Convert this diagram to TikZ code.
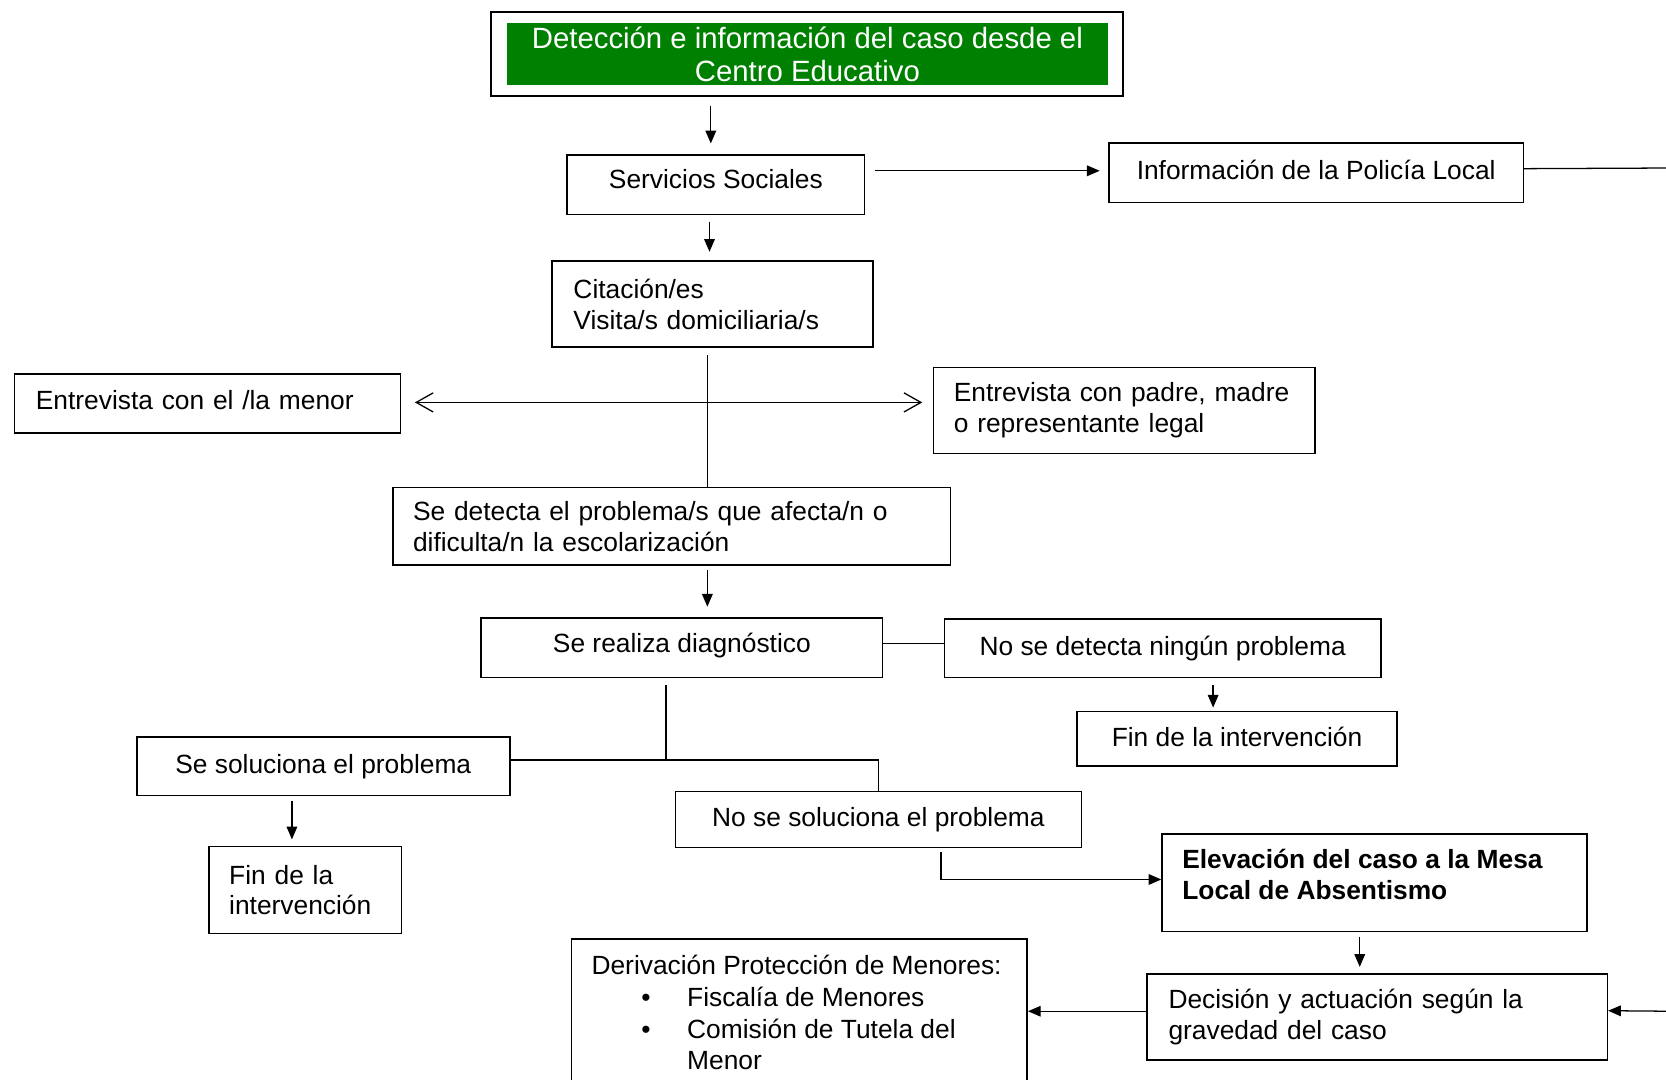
\documentclass[tikz,border=0pt]{standalone}
\usepackage{fontspec}
\setmainfont{Liberation Sans}
\usetikzlibrary{arrows.meta}
\definecolor{dgreen}{RGB}{0,128,0}
\begin{document}
\begin{tikzpicture}[x=0.5pt,y=-0.5pt,
  font=\fontsize{12.4}{14.5}\selectfont,
  box/.style={draw, line width=0.75pt, anchor=north west, inner ysep=0pt},
  cbox/.style={box, align=center, inner xsep=0pt},
  lbox/.style={box, align=left},
  arr/.style={line width=0.6pt, -{Triangle[length=6pt,width=5pt]}},
  ln/.style={line width=0.6pt},
  dbl/.style={line width=0.6pt, {Straight Barb[length=8pt,width=9pt]}-{Straight Barb[length=8pt,width=9pt]}}]
\useasboundingbox (0,0) rectangle (1568,1016);

% nodes
\node[box, line width=1pt, minimum width=297.5pt, minimum height=39.5pt] (top) at (461,10) {};
\node[anchor=north west, fill=dgreen, text=white, minimum width=282.5pt, minimum height=29.5pt, inner sep=0pt, align=center, font=\fontsize{13.8}{15.5}\selectfont] (topin) at (477,21) {Detección e información del caso desde el\\Centro Educativo};

\node[cbox, minimum width=140pt, minimum height=28pt, text depth=5pt] (ss) at (533,145) {Servicios Sociales};
\node[cbox, minimum width=195pt, minimum height=28pt, text depth=3pt] (pol) at (1043,134) {Información de la Policía Local};
\node[lbox, inner xsep=10pt, text width=131pt, minimum height=40.5pt] (cit) at (519,245) {Citación/es\\Visita/s domiciliaria/s};
\node[lbox, inner xsep=10pt, text width=161.5pt, minimum height=28pt, text depth=3pt] (menor) at (13,351) {Entrevista con el /la menor};
\node[lbox, inner xsep=9.5pt, text width=160.5pt, minimum height=40.5pt] (padre) at (878,345) {\mbox{Entrevista con padre, madre}\\o representante legal};
\node[lbox, inner xsep=9.5pt, text width=243.5pt, minimum height=36.5pt] (detecta) at (369,458) {Se detecta el problema/s que afecta/n o\\dificulta/n la escolarización};
\node[cbox, minimum width=189pt, minimum height=28pt, text depth=4.7pt] (diag) at (452,581) {Se realiza diagnóstico};
\node[cbox, minimum width=205.5pt, minimum height=27.5pt] (nodet) at (888,582) {No se detecta ningún problema};
\node[cbox, minimum width=150.5pt, minimum height=25.5pt, text depth=2pt] (fin1) at (1013,669) {Fin de la intervención};
\node[cbox, minimum width=175.5pt, minimum height=27.5pt] (sol) at (128,693) {Se soluciona el problema};
\node[lbox, inner xsep=9.5pt, text width=71.5pt, minimum height=41pt] (fin2) at (196,796) {Fin de la\\intervención};
\node[cbox, minimum width=191pt, minimum height=26.5pt] (nosol) at (635,744) {No se soluciona el problema};
\node[box, inner xsep=9.5pt, minimum width=200pt, minimum height=46pt] (elev) at (1093,784) {\parbox{181pt}{\fontsize{12.4}{14.5}\selectfont\bfseries Elevación del caso a la Mesa\\Local de Absentismo\par\vspace{8pt}}};
\node[lbox, inner xsep=10pt, text width=196.5pt, minimum height=40.5pt] (dec) at (1079,916) {Decisión y actuación según la\\gravedad del caso};
\node[box, inner sep=0pt] (der) at (537,883) {\parbox[t][80pt][t]{214.5pt}{\fontsize{12.4}{15}\selectfont\setlength{\parindent}{0pt}\vspace*{7.5pt}\hspace*{9.5pt}Derivación Protección de Menores:\\
\hspace*{33pt}\makebox[21.5pt][l]{\textbullet}Fiscalía de Menores\\
\hspace*{33pt}\makebox[21.5pt][l]{\textbullet}Comisión de Tutela del\\
\hspace*{54.5pt}Menor}};

\coordinate (polout) at (1600,158);
\coordinate (decin) at (1600,952);

% connectors
\draw[arr, shorten <=4.5pt, shorten >=5pt] ([xshift=-45.25pt]top.south) -- ([xshift=-45.25pt]top.south |- ss.north);
\draw[arr, shorten <=4.5pt, shorten >=4pt] ([yshift=6.5pt]ss.east) -- ([yshift=6.5pt]ss.east -| pol.west);
\draw[ln] ([yshift=2pt]pol.east) -- (polout);
\draw[arr, shorten <=3pt, shorten >=4pt] ([xshift=-3pt]ss.south) -- ([xshift=-3pt]ss.south |- cit.north);
\draw[ln, shorten <=3.5pt] ([xshift=-2.5pt]cit.south) -- ([xshift=-2.5pt]cit.south |- detecta.north);
\draw[dbl, shorten <=6.5pt, shorten >=5pt] ([yshift=0.5pt]menor.east) -- ([yshift=0.5pt]menor.east -| padre.west);
\draw[arr, shorten <=2pt, shorten >=5pt] ([xshift=16.75pt]detecta.south) -- ([xshift=16.75pt]detecta.south |- diag.north);
\draw[ln] ([yshift=2pt]diag.east) -- ([yshift=2pt]diag.east -| nodet.west);
\draw[arr, shorten <=3pt, shorten >=1.5pt] ([xshift=23.75pt]nodet.south) -- ([xshift=23.75pt]nodet.south |- fin1.north);
\draw[ln] ([xshift=-7.5pt,yshift=-3pt]diag.south) -- ([xshift=-7.5pt,yshift=2.5pt]diag.south |- sol.east);
\draw[ln] ([yshift=3pt]sol.east) -| (nosol.north);
\draw[arr, shorten <=2pt, shorten >=3pt] ([xshift=-14.75pt]sol.south) -- ([xshift=-14.75pt]sol.south |- fin2.north);
\draw[arr, shorten <=1.5pt] ([xshift=29.5pt]nosol.south) |- ([yshift=1.5pt]elev.west);
\draw[arr, shorten <=2pt, shorten >=3pt] ([xshift=-7pt]elev.south) -- ([xshift=-7pt]elev.south |- dec.north);
\draw[arr] ([yshift=2.75pt]dec.west) -- ([yshift=2.75pt]dec.west -| der.east);
\draw[arr] (decin) -- ([yshift=3pt]dec.east);
\end{tikzpicture}
\end{document}
